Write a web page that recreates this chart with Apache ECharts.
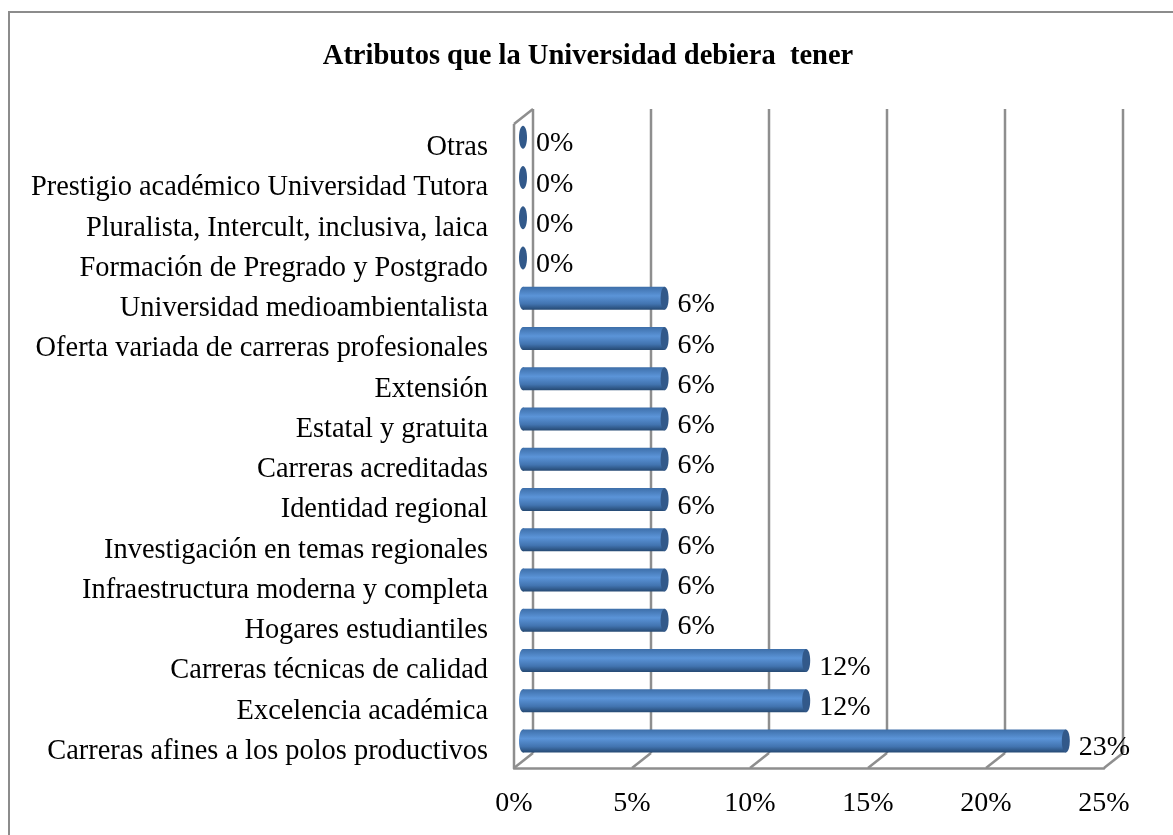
<!DOCTYPE html>
<html>
<head>
<meta charset="utf-8">
<script src="https://cdn.jsdelivr.net/npm/echarts@6/dist/echarts.min.js"></script>
<style>
  html, body { margin: 0; padding: 0; background: #fff; }
  #chart { width: 1173px; height: 835px; }
</style>
</head>
<body>
<div id="chart"></div>
<script>
const categories = [
  "Carreras afines a los polos productivos",
  "Excelencia académica",
  "Carreras técnicas de calidad",
  "Hogares estudiantiles",
  "Infraestructura moderna y completa",
  "Investigación en temas regionales",
  "Identidad regional",
  "Carreras acreditadas",
  "Estatal y gratuita",
  "Extensión",
  "Oferta variada de carreras profesionales",
  "Universidad medioambientalista",
  "Formación de Pregrado y Postgrado",
  "Pluralista, Intercult, inclusiva, laica",
  "Prestigio académico Universidad Tutora",
  "Otras",
];
const values = [23, 12, 12, 6, 6, 6, 6, 6, 6, 6, 6, 6, 0, 0, 0, 0];
const ticks = [0, 5, 10, 15, 20, 25];

const FONT = '"Liberation Serif", serif';
const WALL = "#8e8e8e";
const DEPTH_X = 19;
const DEPTH_Y = -15;

const barFill = new echarts.graphic.LinearGradient(0, 0, 0, 1, [
  { offset: 0, color: "#3d6ea8" },
  { offset: 0.4, color: "#5b94d8" },
  { offset: 0.75, color: "#4274b0" },
  { offset: 1, color: "#264a74" },
]);

const chart = echarts.init(document.getElementById("chart"));

function renderWalls(params, api) {
  const v = api.value(0);
  const front = api.coord([v, 0]);
  const band = api.size([0, 1])[1];
  const bottom = front[1] + band / 2;
  const top = bottom - band * categories.length;
  const x = front[0];
  const line = (x1, y1, x2, y2) => ({
    type: "line",
    shape: { x1, y1, x2, y2 },
    style: { stroke: WALL, lineWidth: 2.5 },
  });
  const parts = [
    line(x, bottom, x + DEPTH_X, bottom + DEPTH_Y),
    line(x + DEPTH_X, bottom + DEPTH_Y, x + DEPTH_X, top + DEPTH_Y),
  ];
  if (v === 0) {
    parts.push(line(x, bottom, x, top));
    parts.push(line(x, top, x + DEPTH_X, top + DEPTH_Y));
  }
  return { type: "group", children: parts };
}

function renderBar(params, api) {
  const v = api.value(0);
  const base = api.coord([0, api.value(1)]);
  const end = api.coord([v, api.value(1)]);
  const off = 9;
  const y = base[1] - 7;
  const h = 23;
  const rx = 4;
  const x0 = base[0] + off;
  const x1 = end[0] + off;
  const parts = [];
  if (v > 0) {
    parts.push({
      type: "ellipse",
      shape: { cx: x0, cy: y, rx: rx, ry: h / 2 },
      style: { fill: barFill },
    });
    parts.push({
      type: "rect",
      shape: { x: x0, y: y - h / 2, width: x1 - x0, height: h },
      style: { fill: barFill },
    });
  }
  parts.push({
    type: "ellipse",
    shape: { cx: x1, cy: y, rx: rx, ry: h / 2 },
    style: { fill: "#32598a" },
  });
  parts.push({
    type: "text",
    style: {
      x: x1 + rx + 9,
      y: y + 7,
      text: v + "%",
      fill: "#000",
      font: "28px " + FONT,
      verticalAlign: "middle",
    },
  });
  return { type: "group", children: parts };
}

chart.setOption({
  animation: false,
  title: {
    text: "Atributos que la Universidad debiera  tener",
    left: 583,
    top: 37,
    textAlign: "center",
    textStyle: { fontFamily: FONT, fontSize: 28.5, fontWeight: "bold", color: "#000" },
  },
  grid: { left: 514, right: 69, top: 124, bottom: 67 },
  xAxis: {
    type: "value",
    min: 0,
    max: 25,
    interval: 5,
    axisLine: { show: true, lineStyle: { color: WALL, width: 2.5 } },
    axisTick: { show: false },
    splitLine: { show: false },
    axisLabel: {
      formatter: "{value}%",
      color: "#000",
      fontFamily: FONT,
      fontSize: 28,
      margin: 22,
    },
  },
  yAxis: {
    type: "category",
    data: categories,
    axisLine: { show: false },
    axisTick: { show: false },
    axisLabel: {
      color: "#000",
      fontFamily: FONT,
      fontSize: 28.4,
      margin: 26,
      verticalAlign: "top",
      lineHeight: 7,
    },
  },
  series: [
    {
      type: "custom",
      coordinateSystem: "cartesian2d",
      renderItem: renderWalls,
      clip: false,
      silent: true,
      data: ticks.map((t) => [t, 0]),
      encode: { x: 0, y: 1 },
      z: 1,
    },
    {
      type: "custom",
      coordinateSystem: "cartesian2d",
      renderItem: renderBar,
      clip: false,
      data: values.map((v, i) => [v, i]),
      encode: { x: 0, y: 1 },
      z: 2,
    },
  ],
  graphic: [
    {
      type: "rect",
      silent: true,
      z: -1,
      shape: { x: 9, y: 12, width: 1180, height: 840 },
      style: { fill: "#fff", stroke: "#8c8c8c", lineWidth: 2 },
    },
  ],
});
</script>
</body>
</html>
